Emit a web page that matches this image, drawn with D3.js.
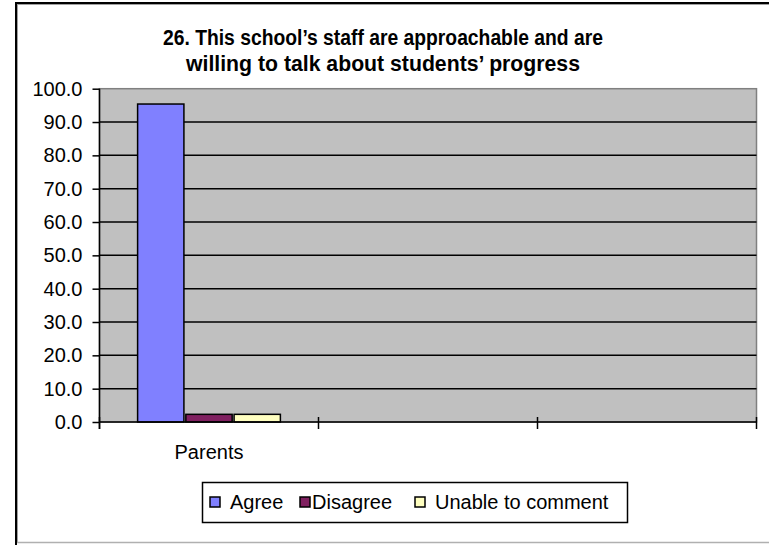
<!DOCTYPE html>
<html><head><meta charset="utf-8">
<script src="https://cdn.jsdelivr.net/npm/d3@7/dist/d3.min.js"></script>
<style>body{margin:0;background:#fff}svg{display:block}</style>
</head><body><svg id="c" width="769" height="545"></svg>
<script>
const titleLines = ["26. This school\u2019s staff are approachable and are", "willing to talk about students\u2019 progress"];
const categories = ["Parents", "", ""];
const seriesNames = ["Agree", "Disagree", "Unable to comment"];
const agreeValues = [95.4];
const disagreeValues = [2.3];
const unableValues = [2.3];
const yTickValues = [0, 10, 20, 30, 40, 50, 60, 70, 80, 90, 100];
const seriesColors = ["#8080FF", "#802060", "#FFFFC0"];

const seriesValues = [agreeValues, disagreeValues, unableValues];
const FONT = "'Liberation Sans', Arial, sans-serif";
const W = 769, H = 545;
const svg = d3.select("#c");

// outer frame
svg.append("rect").attr("width", W).attr("height", H).attr("fill", "#fff");
svg.append("line").attr("x1", 16).attr("x2", 16).attr("y1", 2).attr("y2", H).attr("stroke", "#000").attr("stroke-width", 2);
svg.append("line").attr("x1", 15).attr("x2", W).attr("y1", 3).attr("y2", 3).attr("stroke", "#000").attr("stroke-width", 2);
svg.append("line").attr("x1", 17.5).attr("x2", 17.5).attr("y1", 4).attr("y2", 542).attr("stroke", "#a0a0a0").attr("stroke-width", 1);
svg.append("line").attr("x1", 17).attr("x2", W).attr("y1", 4.5).attr("y2", 4.5).attr("stroke", "#a0a0a0").attr("stroke-width", 1);
svg.append("line").attr("x1", 17).attr("x2", W).attr("y1", 542.5).attr("y2", 542.5).attr("stroke", "#b0b0b0").attr("stroke-width", 1.5);

// title
const titleY = [45, 71];
const titleLen = [440, 394];
titleLines.forEach((t, i) => {
  svg.append("text").attr("x", 383).attr("y", titleY[i]).attr("text-anchor", "middle")
    .attr("font-family", FONT).attr("font-weight", "bold").attr("font-size", 22)
    .attr("textLength", titleLen[i]).attr("lengthAdjust", "spacingAndGlyphs")
    .attr("fill", "#000").text(t);
});

// scales
const plotL = 99.5, plotR = 756.5, plotT = 88.7, plotB = 422;
const x = d3.scaleBand().domain(d3.range(categories.length)).range([plotL, plotR]).padding(0);
const xs = d3.scaleBand().domain(seriesNames).range([0, x.bandwidth()]).paddingOuter(0.79).paddingInner(0.04);
const y = d3.scaleLinear().domain([0, 100]).range([plotB, plotT]);

// plot area
svg.append("rect").attr("x", plotL).attr("y", plotT).attr("width", plotR - plotL).attr("height", plotB - plotT)
  .attr("fill", "#C0C0C0").attr("stroke", "#808080").attr("stroke-width", 1.5);

// gridlines
svg.append("g").selectAll("line").data(yTickValues.filter(v => v > 0 && v < 100)).join("line")
  .attr("x1", plotL).attr("x2", plotR).attr("y1", d => y(d)).attr("y2", d => y(d))
  .attr("stroke", "#000").attr("stroke-width", 1.5);

// bars
const barData = [];
seriesNames.forEach((s, si) => {
  seriesValues[si].forEach((v, ci) => { if (v != null) barData.push({ s, si, ci, v }); });
});
svg.append("g").selectAll("rect").data(barData).join("rect")
  .attr("x", d => x(d.ci) + xs(d.s))
  .attr("y", d => y(d.v))
  .attr("width", xs.bandwidth())
  .attr("height", d => y(0) - y(d.v))
  .attr("fill", d => seriesColors[d.si])
  .attr("stroke", "#000").attr("stroke-width", 1.5);

// y axis
const yAxis = svg.append("g").attr("transform", `translate(${plotL},0)`)
  .call(d3.axisLeft(y).tickValues(yTickValues).tickFormat(d3.format(".1f")).tickSize(7).tickSizeOuter(0).tickPadding(10));
yAxis.select(".domain").remove();
yAxis.selectAll(".tick line").attr("stroke", "#000").attr("stroke-width", 1.5);
yAxis.selectAll(".tick text").attr("font-family", FONT).attr("font-size", 20).attr("fill", "#000");
svg.append("line").attr("x1", plotL).attr("x2", plotL).attr("y1", plotT).attr("y2", plotB + 7)
  .attr("stroke", "#000").attr("stroke-width", 1.5);

// x axis
svg.append("line").attr("x1", plotL).attr("x2", plotR).attr("y1", plotB).attr("y2", plotB)
  .attr("stroke", "#000").attr("stroke-width", 1.5);
const edges = d3.range(categories.length + 1).map(i => i < categories.length ? x(i) : x.range()[1]);
svg.append("g").selectAll("line").data(edges).join("line")
  .attr("x1", d => d).attr("x2", d => d).attr("y1", plotB - 5).attr("y2", plotB + 7)
  .attr("stroke", "#000").attr("stroke-width", 1.5);
const xAxis = svg.append("g").attr("transform", `translate(0,${plotB})`)
  .call(d3.axisBottom(x).tickFormat(i => categories[i]).tickSize(0).tickPadding(23));
xAxis.select(".domain").remove();
xAxis.selectAll(".tick text").attr("font-family", FONT).attr("font-size", 20).attr("fill", "#000");

// legend
svg.append("rect").attr("x", 202.5).attr("y", 482.5).attr("width", 425).attr("height", 40)
  .attr("fill", "#fff").attr("stroke", "#000").attr("stroke-width", 1.5);
const legendX = [210, 300, 415];
const lg = svg.append("g").selectAll("g").data(seriesNames).join("g")
  .attr("transform", (d, i) => `translate(${legendX[i]},497)`);
lg.append("rect").attr("width", 10).attr("height", 10)
  .attr("fill", (d, i) => seriesColors[i]).attr("stroke", "#000").attr("stroke-width", 1.5);
lg.append("text").attr("x", (d, i) => i === 1 ? 12 : 20).attr("y", 12)
  .attr("font-family", FONT).attr("font-size", 20).attr("fill", "#000").text(d => d);
</script>
</body></html>
